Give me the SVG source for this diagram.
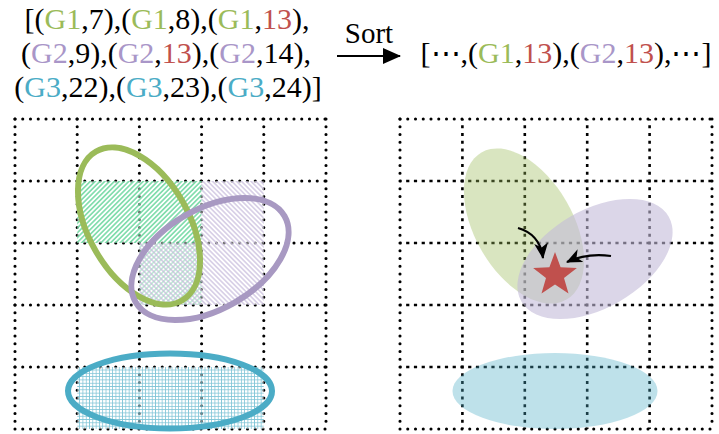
<svg xmlns="http://www.w3.org/2000/svg" width="719" height="434" viewBox="0 0 719 434">
  <style>
    .txt { font-family: "Liberation Serif", "DejaVu Serif", serif; font-size: 30px; fill: #000; }
    .g1 { fill: #9BBB59; }
    .g2 { fill: #A996C8; }
    .g3 { fill: #4BACC6; }
    .red { fill: #C0504D; }
    .dot { stroke: #000; stroke-width: 3.1; stroke-linecap: round; stroke-dasharray: 0 7.75; fill: none; }
    .dash { stroke: #000; stroke-width: 2.6; stroke-linecap: butt; stroke-dasharray: 3.2 4.55; stroke-dashoffset: 1.6; fill: none; }
    .ring { fill: none; stroke-width: 6; }
    .arrow { fill: none; stroke: #000; stroke-width: 2.2; }
  </style>
  <defs>
    <pattern id="hatchGreen" patternUnits="userSpaceOnUse" width="3.4" height="10" patternTransform="rotate(45)">
      <line x1="1.7" y1="0" x2="1.7" y2="10" stroke="#4FCF8C" stroke-width="1.2"/>
    </pattern>
    <pattern id="hatchPurple" patternUnits="userSpaceOnUse" width="3.4" height="10" patternTransform="rotate(-45)">
      <line x1="1.7" y1="0" x2="1.7" y2="10" stroke="#C4B8DA" stroke-width="1.1"/>
    </pattern>
    <pattern id="meshBlue" patternUnits="userSpaceOnUse" width="3.3" height="3.3">
      <path d="M0,0.4 H3.3 M0.4,0 V3.3" stroke="#4BACC6" stroke-width="0.8" fill="none"/>
    </pattern>
    <marker id="stealth" markerUnits="userSpaceOnUse" viewBox="0 0 16 14" refX="15" refY="7" markerWidth="16" markerHeight="14" orient="auto">
      <path d="M0,0 L16,7 L0,14 L4.5,7 Z" fill="#000"/>
    </marker>
    <marker id="tri" markerUnits="userSpaceOnUse" viewBox="0 0 18 16" refX="17" refY="8" markerWidth="18" markerHeight="16" orient="auto">
      <path d="M0,0 L18,8 L0,16 Z" fill="#000"/>
    </marker>
  </defs>

  <!-- list of keys before sorting -->
  <g id="list-before" class="txt">
    <text x="167" y="29" text-anchor="middle">[(<tspan class="g1">G1</tspan>,7),(<tspan class="g1">G1</tspan>,8),(<tspan class="g1">G1</tspan>,<tspan class="red">13</tspan>),</text>
    <text x="166" y="63" text-anchor="middle">(<tspan class="g2">G2</tspan>,9),(<tspan class="g2">G2</tspan>,<tspan class="red">13</tspan>),(<tspan class="g2">G2</tspan>,14),</text>
    <text x="168" y="97" text-anchor="middle">(<tspan class="g3">G3</tspan>,22),(<tspan class="g3">G3</tspan>,23),(<tspan class="g3">G3</tspan>,24)]</text>
  </g>

  <!-- sort step -->
  <g id="sort">
    <text class="txt" x="369" y="43" text-anchor="middle" style="font-size:29px">Sort</text>
  </g>

  <!-- list after sorting -->
  <g id="list-after" class="txt">
    <text x="566" y="63" text-anchor="middle">[⋯,(<tspan class="g1">G1</tspan>,<tspan class="red">13</tspan>),(<tspan class="g2">G2</tspan>,<tspan class="red">13</tspan>),⋯]</text>
  </g>

  <!-- left panel: grid -->
  <g id="grid-left" class="dot">
    <line x1="15" y1="119" x2="326" y2="119"/>
    <line x1="15" y1="181" x2="326" y2="181"/>
    <line x1="15" y1="243" x2="326" y2="243"/>
    <line x1="15" y1="305" x2="326" y2="305"/>
    <line x1="15" y1="367" x2="326" y2="367"/>
    <line x1="15" y1="429" x2="326" y2="429"/>
    <line x1="15" y1="119" x2="15" y2="429"/>
    <line x1="77.2" y1="119" x2="77.2" y2="429"/>
    <line x1="139.4" y1="119" x2="139.4" y2="429"/>
    <line x1="201.6" y1="119" x2="201.6" y2="429"/>
    <line x1="263.8" y1="119" x2="263.8" y2="429"/>
    <line x1="326" y1="119" x2="326" y2="429"/>
  </g>

  <!-- left panel: covered cells -->
  <g id="cells-left">
    <rect x="77.2" y="181" width="124.4" height="62" fill="#fff" fill-opacity="0.45"/>
    <rect x="77.2" y="181" width="124.4" height="62" fill="url(#hatchGreen)"/>
    <rect x="201.6" y="181" width="62.2" height="124" fill="#fff" fill-opacity="0.45"/>
    <rect x="201.6" y="181" width="62.2" height="124" fill="url(#hatchPurple)"/>
    <rect x="139.4" y="243" width="62.2" height="62" fill="#fff" fill-opacity="0.45"/>
    <rect x="139.4" y="243" width="62.2" height="62" fill="url(#hatchGreen)" opacity="0.5"/>
    <rect x="139.4" y="243" width="62.2" height="62" fill="url(#hatchPurple)"/>
    <rect x="77.2" y="367" width="186.6" height="62" fill="#fff" fill-opacity="0.45"/>
    <rect x="77.2" y="367" width="186.6" height="62" fill="url(#meshBlue)" opacity="0.7"/>
  </g>

  <!-- left panel: group outlines -->
  <g id="outline-g1">
    <ellipse class="ring" cx="139" cy="226" rx="50" ry="86" transform="rotate(-30 139 226)" stroke="#9BBB59"/>
  </g>
  <g id="outline-g2">
    <ellipse class="ring" cx="210" cy="259" rx="86" ry="50" transform="rotate(-30 210 259)" stroke="#A899C2"/>
  </g>
  <g id="outline-g3">
    <ellipse class="ring" cx="170" cy="391" rx="102" ry="37.5" stroke="#4BACC6" stroke-width="7"/>
  </g>

  <!-- right panel: grid -->
  <g id="grid-right">
    <g class="dot">
      <line x1="400" y1="119" x2="712" y2="119"/>
      <line x1="400" y1="429" x2="712" y2="429"/>
      <line x1="400" y1="119" x2="400" y2="429"/>
      <line x1="712" y1="119" x2="712" y2="429"/>
    </g>
    <g class="dash">
      <line x1="400" y1="181" x2="712" y2="181"/>
      <line x1="400" y1="243" x2="712" y2="243"/>
      <line x1="400" y1="305" x2="712" y2="305"/>
      <line x1="400" y1="367" x2="712" y2="367"/>
      <line x1="462.4" y1="119" x2="462.4" y2="429"/>
      <line x1="524.8" y1="119" x2="524.8" y2="429"/>
      <line x1="587.2" y1="119" x2="587.2" y2="429"/>
      <line x1="649.6" y1="119" x2="649.6" y2="429"/>
    </g>
  </g>

  <!-- right panel: group regions -->
  <g id="region-g1">
    <ellipse cx="524" cy="226" rx="49" ry="85" transform="rotate(-30 524 226)" fill="#9BBB59" fill-opacity="0.38"/>
  </g>
  <g id="region-g2">
    <ellipse cx="595" cy="259" rx="85" ry="49" transform="rotate(-30 595 259)" fill="#C3BAD8" fill-opacity="0.6"/>
  </g>
  <g id="region-g3">
    <ellipse cx="555" cy="391" rx="102.5" ry="38" fill="#4BACC6" fill-opacity="0.36"/>
  </g>

  <!-- shared key -->
  <g id="match">
    <polygon points="555,252 560.6,267.3 576.9,267.9 564,277.9 568.5,293.6 555,284.5 541.5,293.6 546,277.9 533.1,267.9 549.4,267.3" fill="#C0504D"/>
  </g>

  <!-- connectors -->
  <g id="connectors">
    <line x1="337" y1="56" x2="400" y2="56" stroke="#000" stroke-width="2" marker-end="url(#tri)"/>
    <path class="arrow" d="M518,228 C532,232 541,242 543,258" marker-end="url(#stealth)"/>
    <path class="arrow" d="M611,256 C596,254 582,255 567,262" marker-end="url(#stealth)"/>
  </g>
</svg>
